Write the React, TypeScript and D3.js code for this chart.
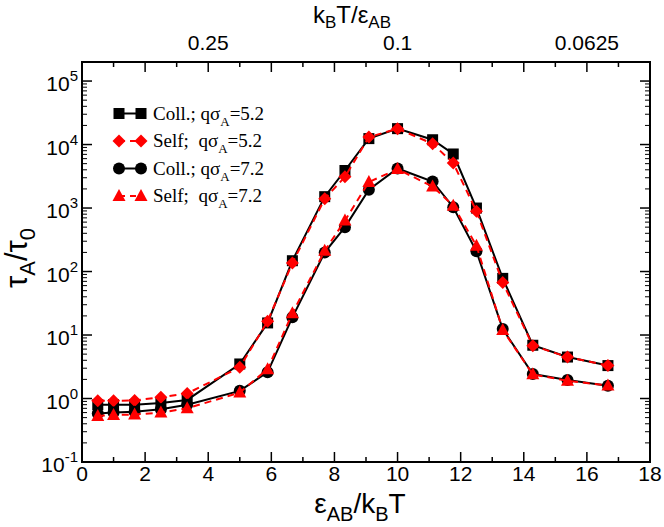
import React from "react";
import * as d3 from "d3";

const xVals = [0.5, 1, 1.667, 2.5, 3.333, 5, 5.882, 6.667, 7.692, 8.333, 9.091, 10, 11.111, 11.765, 12.5, 13.333, 14.286, 15.385, 16.667];
const coll52 = [0.8, 0.8, 0.8, 0.85, 0.95, 3.5, 15.5, 148, 1510, 3900, 12400, 17800, 11900, 7100, 1000, 78, 6.9, 4.5, 3.3];
const self52 = [0.92, 0.92, 0.93, 1.05, 1.2, 3.1, 16.5, 136, 1400, 3100, 13100, 17800, 10300, 5100, 890, 67, 6.8, 4.5, 3.3];
const coll72 = [0.58, 0.6, 0.62, 0.68, 0.8, 1.32, 2.6, 19, 200, 500, 1940, 4200, 2620, 1030, 208, 12.4, 2.43, 1.95, 1.59];
const self72 = [0.53, 0.55, 0.56, 0.6, 0.7, 1.24, 2.9, 22, 213, 635, 2570, 4100, 2180, 1090, 255, 12, 2.4, 1.9, 1.6];

const xMajor = [0, 2, 4, 6, 8, 10, 12, 14, 16, 18];
const xMinor = [1, 3, 5, 7, 9, 11, 13, 15, 17];
const topTicks = [4, 10, 16];
const topLabels = ["0.25", "0.1", "0.0625"];
const yExps = [-1, 0, 1, 2, 3, 4, 5];
const legendLabels = ["Coll.; q\u03c3", "Self;  q\u03c3", "Coll.; q\u03c3", "Self;  q\u03c3"];
const legendValues = ["=5.2", "=5.2", "=7.2", "=7.2"];

const L = 82, R = 650, T = 62, B = 462;

export default function App() {
  const x = d3.scaleLinear().domain([0, 18]).range([L, R]);
  const y = d3.scaleLog().domain([0.1, Math.pow(10, 5.3)]).range([B, T]);
  const line = (vals: number[]) =>
    d3.line<number>().x((_, i) => x(xVals[i])).y((v) => y(v))(vals) || "";

  const minorY: number[] = [];
  for (let e = -1; e <= 5; e++) {
    for (let k = 2; k <= 9; k++) {
      const v = k * Math.pow(10, e);
      if (v <= Math.pow(10, 5.3)) minorY.push(v);
    }
  }
  const sans = "'Liberation Sans', Arial, sans-serif";
  const serif = "'Liberation Serif', 'Times New Roman', serif";

  const square = (cx: number, cy: number, k: string) => (
    <rect key={k} x={cx - 5.5} y={cy - 5.5} width={11} height={11} fill="black" />
  );
  const circle = (cx: number, cy: number, k: string) => (
    <circle key={k} cx={cx} cy={cy} r={6} fill="black" />
  );
  const diamond = (cx: number, cy: number, k: string) => (
    <path key={k} d={`M${cx},${cy - 6.5}L${cx + 6.5},${cy}L${cx},${cy + 6.5}L${cx - 6.5},${cy}Z`} fill="#ff0000" />
  );
  const triangle = (cx: number, cy: number, k: string) => (
    <path key={k} d={`M${cx},${cy - 7}L${cx + 6.5},${cy + 5}L${cx - 6.5},${cy + 5}Z`} fill="#ff0000" />
  );

  const series = [
    { vals: coll52, color: "black", dash: undefined, m: square },
    { vals: self52, color: "#ff0000", dash: "7,5", m: diamond },
    { vals: coll72, color: "black", dash: undefined, m: circle },
    { vals: self72, color: "#ff0000", dash: "7,5", m: triangle },
  ];

  const legY = [113.5, 141, 168.5, 196];

  return (
    <svg width={664} height={527} style={{ position: "absolute", left: 0, top: 0 }}>
      <rect x={0} y={0} width={664} height={527} fill="white" />
      {/* ticks */}
      {xMajor.map((t) => (
        <g key={"xM" + t}>
          <line x1={x(t)} x2={x(t)} y1={B} y2={B - 10} stroke="black" strokeWidth={1.5} />
          <line x1={x(t)} x2={x(t)} y1={T} y2={T + 10} stroke="black" strokeWidth={1.5} />
        </g>
      ))}
      {xMinor.map((t) => (
        <g key={"xm" + t}>
          <line x1={x(t)} x2={x(t)} y1={B} y2={B - 5} stroke="black" strokeWidth={1.5} />
          <line x1={x(t)} x2={x(t)} y1={T} y2={T + 5} stroke="black" strokeWidth={1.5} />
        </g>
      ))}
      {yExps.map((e) => (
        <g key={"yM" + e}>
          <line x1={L} x2={L + 10} y1={y(Math.pow(10, e))} y2={y(Math.pow(10, e))} stroke="black" strokeWidth={1.5} />
          <line x1={R} x2={R - 10} y1={y(Math.pow(10, e))} y2={y(Math.pow(10, e))} stroke="black" strokeWidth={1.5} />
        </g>
      ))}
      {minorY.map((v, i) => (
        <g key={"ym" + i}>
          <line x1={L} x2={L + 5} y1={y(v)} y2={y(v)} stroke="black" strokeWidth={1} />
          <line x1={R} x2={R - 5} y1={y(v)} y2={y(v)} stroke="black" strokeWidth={1} />
        </g>
      ))}
      <rect x={L} y={T} width={R - L} height={B - T} fill="none" stroke="black" strokeWidth={2} />
      {/* tick labels */}
      {xMajor.map((t) => (
        <text key={"xl" + t} x={x(t)} y={B + 19} textAnchor="middle" fontFamily={sans} fontSize={21}>{t}</text>
      ))}
      {topTicks.map((t, i) => (
        <text key={"tl" + t} x={x(t)} y={T - 12} textAnchor="middle" fontFamily={sans} fontSize={21}>{topLabels[i]}</text>
      ))}
      {yExps.map((e) => (
        <text key={"yl" + e} x={L - 4} y={y(Math.pow(10, e)) + 10} textAnchor="end" fontFamily={sans} fontSize={21}>
          10<tspan dy={-10} fontSize={15}>{e}</tspan>
        </text>
      ))}
      {/* axis titles */}
      <text x={360} y={513} textAnchor="middle" fontFamily={sans} fontSize={28}>
        {"\u03b5"}<tspan dy={8} fontSize={20}>AB</tspan><tspan dy={-8}>/k</tspan><tspan dy={8} fontSize={20}>B</tspan><tspan dy={-8}>T</tspan>
      </text>
      <text x={352} y={23} textAnchor="middle" fontFamily={sans} fontSize={24}>
        k<tspan dy={5} fontSize={17}>B</tspan><tspan dy={-5}>{"T/\u03b5"}</tspan><tspan dy={5} fontSize={17}>AB</tspan>
      </text>
      <text transform={`translate(27,258) rotate(-90)`} textAnchor="middle" fontFamily={sans} fontSize={31}>
        {"\u03c4"}<tspan dy={8} fontSize={22}>A</tspan><tspan dy={-8}>{"/\u03c4"}</tspan><tspan dy={8} fontSize={22}>0</tspan>
      </text>
      {/* series */}
      {series.map((s, si) => (
        <g key={"s" + si}>
          <path d={line(s.vals)} fill="none" stroke={s.color} strokeWidth={2} strokeDasharray={s.dash} />
          {s.vals.map((v, i) => s.m(x(xVals[i]), y(v), "m" + si + "_" + i))}
        </g>
      ))}
      {/* legend */}
      {series.map((s, si) => (
        <g key={"lg" + si}>
          <line x1={119} x2={141} y1={legY[si]} y2={legY[si]} stroke={s.color} strokeWidth={2} strokeDasharray={s.dash ? "6,5" : undefined} />
          {s.m(119, legY[si], "lm1" + si)}
          {s.m(141, legY[si], "lm2" + si)}
          <text x={153} y={legY[si] + 6} fontFamily={serif} fontSize={19} style={{ whiteSpace: "pre" }}>
            {legendLabels[si]}<tspan dy={6} fontSize={13}>A</tspan><tspan dy={-6}>{legendValues[si]}</tspan>
          </text>
        </g>
      ))}
    </svg>
  );
}
